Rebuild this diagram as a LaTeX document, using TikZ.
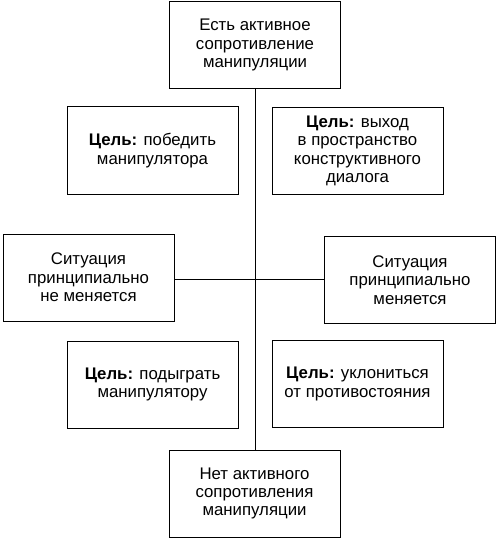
\documentclass[tikz,border=0pt]{standalone}
\usepackage{fontspec}
\setmainfont{Liberation Sans}
\begin{document}
\begin{tikzpicture}[x=1pt,y=-1pt,
  box/.style={draw=black, line width=1pt, minimum width=171pt, minimum height=87pt,
    align=center, inner sep=0pt, font=\fontsize{16.8}{18.4}\selectfont},
  link/.style={line width=1pt}]
\useasboundingbox (0,0) rectangle (498,540);
\node[box] (top) at (255,45) {Есть активное\\сопротивление\\манипуляции};
\node[box] (tl) at (152.5,150.5) {\textbf{Цель:} победить\\манипулятора};
\node[box] (tr) at (357.5,151) {\textbf{Цель:} выход\\в пространство\\конструктивного\\диалога};
\node[box] (ls) at (88.5,277.5) {Ситуация\\принципиально\\не меняется};
\node[box] (rs) at (410,280) {Ситуация\\принципиально\\меняется};
\node[box] (bl) at (152.5,384.5) {\textbf{Цель:} подыграть\\манипулятору};
\node[box] (br) at (357.5,384) {\textbf{Цель:} уклониться\\от противостояния};
\node[box] (bot) at (254.5,493.5) {Нет активного\\сопротивления\\манипуляции};
\coordinate (mid) at (255,279);
\draw[link] (top.south) -- (top.south |- bot.north);
\draw[link] (ls.east |- mid) -- (rs.west |- mid);
\end{tikzpicture}
\end{document}
